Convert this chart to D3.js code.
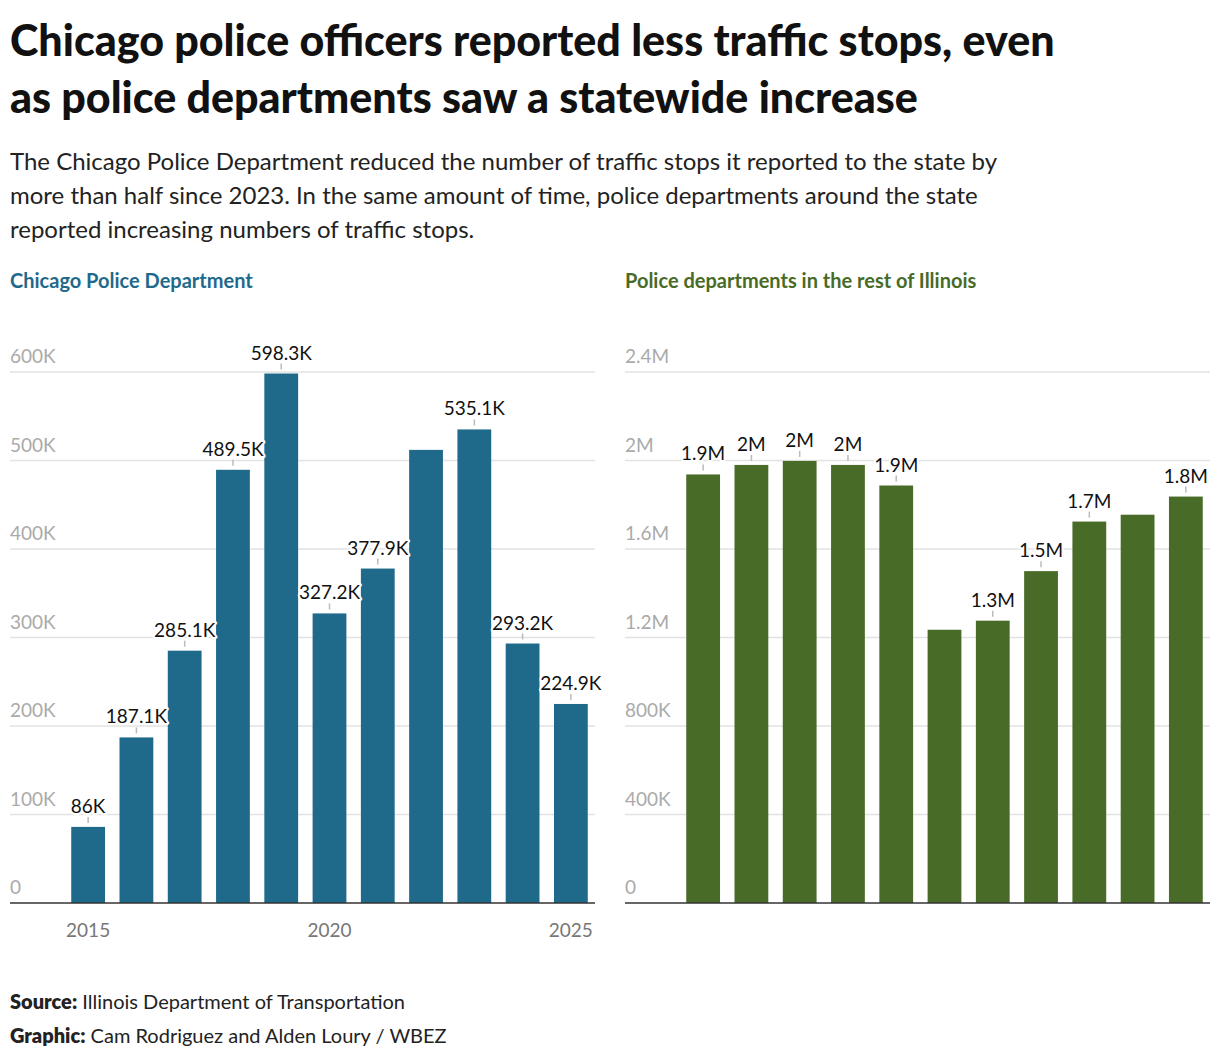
<!DOCTYPE html>
<html><head><meta charset="utf-8">
<script src="https://cdn.jsdelivr.net/npm/d3@7"></script>
<style>
body{margin:0;background:#fff;font-family:Lato,"Open Sans",sans-serif;}
</style></head>
<body><svg id="chart" width="1220" height="1060"></svg>
<script>
const years = [2015,2016,2017,2018,2019,2020,2021,2022,2023,2024,2025];
const chicago = [86000,187100,285100,489500,598300,327200,377900,512000,535100,293200,224900];
const chicagoLabels = ["86K","187.1K","285.1K","489.5K","598.3K","327.2K","377.9K","","535.1K","293.2K","224.9K"];
const rest = [1937000,1980000,1998000,1980000,1887000,1235000,1276000,1500000,1724000,1755000,1837000];
const restLabels = ["1.9M","2M","2M","2M","1.9M","","1.3M","1.5M","1.7M","","1.8M"];
const chicagoTicks = [0,100000,200000,300000,400000,500000,600000];
const restTicks = [0,400000,800000,1200000,1600000,2000000,2400000];
const xTickYears = [2015,2020,2025];

const svg = d3.select("#chart");

// titles
svg.append("text").attr("x",10).attr("y",56).attr("font-size",43).attr("font-weight",900).attr("fill","#111")
  .text("Chicago police officers reported less traffic stops, even");
svg.append("text").attr("x",10).attr("y",113).attr("font-size",43).attr("font-weight",900).attr("fill","#111")
  .text("as police departments saw a statewide increase");
["The Chicago Police Department reduced the number of traffic stops it reported to the state by",
 "more than half since 2023. In the same amount of time, police departments around the state",
 "reported increasing numbers of traffic stops."].forEach((t,i)=>{
  svg.append("text").attr("x",10).attr("y",170+i*34).attr("font-size",24).attr("fill","#222").text(t);
});

const y0 = 903, yTop = 372;

function panel(opts){
  const g = svg.append("g");
  g.append("text").attr("x",opts.left).attr("y",288).attr("font-size",20).attr("font-weight",700)
    .attr("fill",opts.color).text(opts.title);
  const x = d3.scaleBand().domain(years).range([opts.barStart,opts.right]).paddingInner(0.3).paddingOuter(0.15);
  const y = d3.scaleLinear().domain([0,opts.max]).range([y0,yTop]);
  // grid
  g.selectAll(".grid").data(opts.ticks.slice(1)).enter().append("line")
    .attr("x1",opts.left).attr("x2",opts.right).attr("y1",d=>y(d)).attr("y2",d=>y(d))
    .attr("stroke","#e2e2e2").attr("stroke-width",1.5);
  g.selectAll(".tl").data(opts.ticks).enter().append("text")
    .attr("x",opts.left).attr("y",d=>y(d)-9).attr("font-size",19).attr("fill","#aaa")
    .text(opts.fmt);
  // bars
  g.selectAll(".bar").data(opts.values).enter().append("rect")
    .attr("x",(d,i)=>x(years[i])).attr("width",x.bandwidth())
    .attr("y",d=>y(d)).attr("height",d=>y0-y(d)).attr("fill",opts.color);
  // baseline
  g.append("line").attr("x1",opts.left).attr("x2",opts.right).attr("y1",y0).attr("y2",y0)
    .attr("stroke","#333").attr("stroke-width",1.5);
  // value labels
  opts.values.forEach((v,i)=>{
    const lab = opts.labels[i];
    if(!lab) return;
    const cx = x(years[i]) + x.bandwidth()/2;
    g.append("line").attr("x1",cx).attr("x2",cx).attr("y1",y(v)-4).attr("y2",y(v)-10)
      .attr("stroke","#bbb").attr("stroke-width",1.5);
    g.append("text").attr("x",cx).attr("y",y(v)-14).attr("text-anchor","middle").attr("font-size",19)
      .attr("fill","#111").attr("stroke","#fff").attr("stroke-width",4).attr("paint-order","stroke")
      .attr("stroke-linejoin","round").text(lab);
  });
  if(opts.xTicks){
    g.selectAll(".xt").data(opts.xTicks).enter().append("text")
      .attr("x",d=>x(d)+x.bandwidth()/2).attr("y",937).attr("text-anchor","middle")
      .attr("font-size",19).attr("fill","#777").text(d=>d);
  }
}

panel({left:10,right:595,barStart:64,color:"#1f698b",title:"Chicago Police Department",
  values:chicago,labels:chicagoLabels,ticks:chicagoTicks,max:600000,
  fmt:d=>d===0?"0":(d/1000)+"K",xTicks:xTickYears});
panel({left:625,right:1210,barStart:679,color:"#486b27",title:"Police departments in the rest of Illinois",
  values:rest,labels:restLabels,ticks:restTicks,max:2400000,
  fmt:d=>d===0?"0":(d>=1000000?(d/1000000)+"M":(d/1000)+"K")});

// footer
[["Source:"," Illinois Department of Transportation",1009],["Graphic:"," Cam Rodriguez and Alden Loury / WBEZ",1043]]
.forEach(([b,t,yy])=>{
  const tx = svg.append("text").attr("x",10).attr("y",yy).attr("font-size",20).attr("fill","#222");
  tx.append("tspan").attr("font-weight",800).text(b);
  tx.append("tspan").text(t);
});
</script></body></html>
